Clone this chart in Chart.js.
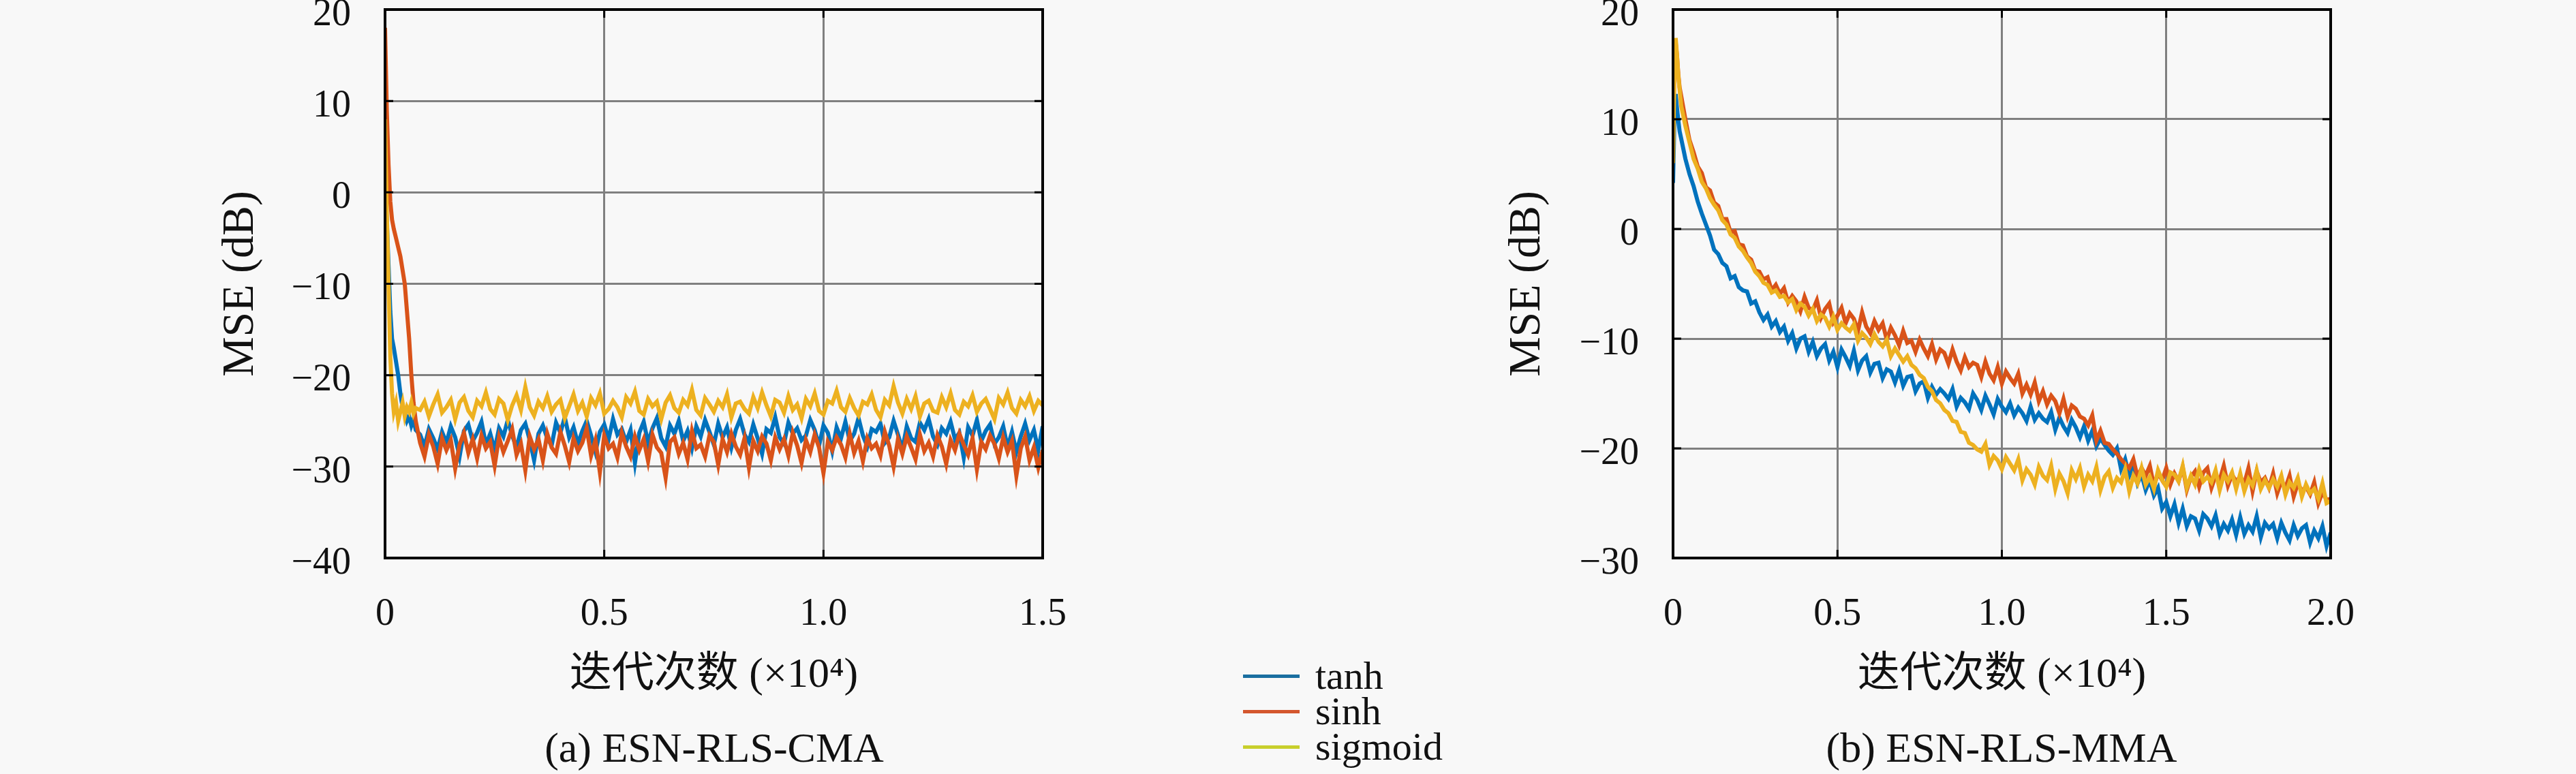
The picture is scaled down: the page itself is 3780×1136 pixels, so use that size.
<!DOCTYPE html>
<html>
<head>
<meta charset="utf-8">
<script src="https://cdn.jsdelivr.net/npm/chart.js@4.4.1/dist/chart.umd.min.js"></script>
<style>
  html, body { margin: 0; padding: 0; background: #f8f8f8; }
  body { width: 3780px; height: 1136px; position: relative; overflow: hidden;
         font-family: "Liberation Serif", "DejaVu Serif", "Noto Sans CJK SC", serif; color: #111; }
  canvas { position: absolute; }
  #cma { left: 300px; top: -70px; }
  #mma { left: 2200px; top: -70px; }
  .caption { position: absolute; top: 1060px; width: 800px; font-size: 62px; line-height: 74px; text-align: center; }
  #legend { position: absolute; left: 1824px; top: 966px; font-size: 58px; }
  .item { display: flex; align-items: center; height: 52px; line-height: 52px; }
  .swatch { display: inline-block; width: 83px; height: 5px; margin-right: 23px; }
</style>
</head>
<body>
<canvas id="cma" width="1330" height="1110"></canvas>
<canvas id="mma" width="1320" height="1110"></canvas>

<div class="caption" style="left:648px">(a) ESN-RLS-CMA</div>
<div class="caption" style="left:2537px">(b) ESN-RLS-MMA</div>

<div id="legend">
  <div class="item"><span class="swatch" style="background:#1a6fa0"></span>tanh</div>
  <div class="item"><span class="swatch" style="background:#d4572e"></span>sinh</div>
  <div class="item"><span class="swatch" style="background:#c8cf2c"></span>sigmoid</div>
</div>

<script>
const seriesNames = ['tanh', 'sinh', 'sigmoid'];
const seriesColors = ['#0072BD', '#D95319', '#EDB120'];

// (a) ESN-RLS-CMA, x in units of 10^4 iterations
const cmaIterHead = [0, 0.004, 0.008, 0.012, 0.016, 0.02, 0.025, 0.03, 0.035, 0.04, 0.045, 0.05, 0.055, 0.06, 0.065, 0.07];
const cmaTailStart = 0.08, cmaTailStep = 0.01;
const cmaTanhHead = [0, -3, -8, -13, -16, -17, -18.5, -20, -22, -23.5, -24, -25, -24.5, -25.5, -24.8, -26];
const cmaSinhHead = [18, 9, 3, -1, -3, -4, -5, -6, -7, -8.5, -10, -13, -16, -20, -23, -25];
const cmaSigmoidHead = [8, -2, -10, -18, -22, -24, -23, -25, -24, -23, -24.5, -23.5, -24, -23, -24.2, -23.6];
const cmaTanhTail = [
  -26.5,-27.8,-25.9,-26.9,-28.1,-26.2,-27.4,-25.6,-26.8,-28.9,
  -26.1,-25.4,-27.2,-26.3,-25.1,-27.6,-26.4,-28.2,-25.8,-26.7,
  -24.9,-26.6,-27.9,-26.0,-25.3,-27.1,-29.3,-26.4,-25.5,-26.9,
  -27.7,-25.2,-26.3,-24.6,-26.8,-25.7,-27.5,-26.1,-25.0,-26.6,
  -28.4,-26.2,-25.4,-27.0,-24.8,-26.5,-25.9,-27.3,-26.0,-29.6,
  -26.3,-25.1,-27.4,-25.8,-24.7,-26.9,-27.8,-25.5,-26.4,-25.0,
  -27.2,-26.1,-28.0,-25.6,-26.7,-24.9,-26.2,-27.6,-25.3,-26.8,
  -25.7,-27.9,-26.0,-24.8,-26.5,-27.3,-25.4,-26.9,-28.6,-25.9,
  -26.3,-24.6,-26.8,-27.5,-25.2,-26.4,-25.8,-27.1,-26.6,-24.9,
  -26.0,-27.7,-25.5,-26.3,-28.3,-25.7,-26.9,-25.1,-27.2,-26.4,
  -24.7,-26.6,-27.8,-25.9,-26.2,-25.3,-27.4,-26.8,-25.0,-26.5,
  -28.1,-25.6,-26.9,-27.3,-25.2,-26.0,-24.8,-26.7,-27.6,-25.8,
  -26.4,-25.1,-27.0,-26.3,-29.0,-25.7,-26.6,-24.9,-27.2,-26.1,
  -25.4,-27.5,-26.8,-25.6,-27.9,-26.2,-28.4,-26.7,-25.3,-27.1,
  -26.0,-28.2,-25.6
];
const cmaSinhTail = [
  -27.4,-28.9,-26.5,-27.8,-29.7,-26.9,-28.2,-27.1,-30.2,-27.6,
  -26.3,-28.5,-27.0,-29.1,-26.6,-28.0,-27.3,-29.9,-26.8,-28.4,
  -27.2,-25.9,-28.7,-27.5,-30.4,-26.7,-28.1,-27.0,-29.3,-26.4,
  -27.9,-28.6,-26.2,-27.7,-29.5,-26.9,-28.3,-27.4,-25.8,-28.8,
  -27.1,-30.6,-26.6,-28.0,-27.5,-29.0,-26.3,-27.8,-28.9,-26.7,
  -28.2,-27.0,-29.4,-26.5,-27.9,-28.5,-31.2,-27.3,-26.8,-28.6,
  -27.4,-29.2,-26.1,-28.0,-27.6,-28.9,-26.6,-27.3,-29.8,-27.0,
  -28.4,-26.4,-27.8,-28.7,-26.9,-30.1,-27.2,-28.3,-26.7,-27.5,
  -29.3,-26.8,-28.1,-27.0,-28.8,-26.3,-27.7,-29.6,-27.1,-28.4,
  -26.5,-27.9,-30.7,-27.3,-28.2,-26.8,-27.6,-29.0,-26.4,-28.5,
  -27.2,-29.4,-26.9,-28.0,-27.5,-28.8,-26.2,-27.7,-30.0,-27.0,
  -28.6,-26.7,-27.9,-29.2,-26.5,-28.3,-27.4,-28.9,-26.6,-27.8,
  -29.7,-27.1,-28.2,-26.4,-27.6,-28.7,-26.9,-30.3,-27.3,-28.1,
  -26.6,-27.5,-29.1,-26.8,-28.4,-27.2,-31.0,-28.0,-26.7,-29.3,
  -27.9,-30.1,-28.2
];
const cmaSigmoidTail = [
  -23.8,-22.9,-24.5,-23.2,-22.1,-24.1,-23.5,-22.7,-24.8,-23.0,
  -22.4,-23.9,-24.6,-22.8,-23.4,-21.9,-23.7,-24.3,-22.6,-23.1,
  -24.9,-23.3,-22.2,-23.8,-21.3,-23.5,-24.4,-22.9,-23.6,-22.3,
  -24.0,-23.2,-22.7,-24.7,-23.4,-22.1,-23.9,-23.0,-24.5,-22.5,
  -23.3,-22.0,-24.2,-23.7,-22.8,-23.5,-24.6,-22.4,-23.1,-21.8,
  -23.9,-24.3,-22.6,-23.4,-22.9,-24.8,-23.0,-22.2,-23.6,-24.1,
  -22.7,-23.3,-21.6,-23.8,-24.4,-22.5,-23.2,-24.0,-22.8,-23.5,
  -22.1,-24.6,-23.1,-22.9,-23.7,-24.2,-22.4,-23.6,-21.9,-23.3,
  -24.5,-22.7,-23.0,-24.1,-22.3,-23.8,-23.2,-24.7,-22.6,-23.4,
  -22.0,-23.9,-24.3,-22.8,-23.1,-21.7,-23.5,-24.0,-22.5,-23.6,
  -24.4,-22.9,-23.2,-22.1,-23.8,-24.6,-22.7,-23.3,-21.2,-23.0,
  -24.2,-22.6,-23.7,-22.3,-24.5,-23.1,-22.8,-23.9,-24.1,-22.4,
  -23.5,-22.0,-23.8,-24.3,-22.9,-23.4,-22.2,-24.0,-23.1,-22.6,
  -23.7,-24.8,-22.5,-23.2,-21.9,-23.6,-24.2,-22.7,-23.4,-22.3,
  -23.9,-22.8,-23.3
];

// (b) ESN-RLS-MMA
const mmaIterHead = [0, 0.004, 0.008, 0.012, 0.016, 0.02];
const mmaTailStart = 0.025, mmaTailStep = 0.0125;
const mmaTanhHead = [4.2, 9.8, 12.3, 11.0, 9.9, 8.9];
const mmaSinhHead = [8.0, 15.0, 17.0, 15.8, 14.1, 12.9];
const mmaSigmoidHead = [6.0, 14.2, 17.4, 15.9, 14.0, 12.7];
const mmaTanhTail = [
  8.2, 6.4, 5.0, 3.9, 2.5, 1.4, 0.4, -0.6,
  -1.9, -2.3, -3.1, -3.4, -4.5, -4.3, -5.3, -5.6,
  -5.7, -6.8, -6.6, -7.6, -8.3, -7.8, -8.9, -8.4,
  -9.4, -8.9, -10.2, -9.5, -10.9, -10.0, -9.8, -11.2,
  -10.3, -11.6, -10.9, -10.5, -12.0, -11.2, -12.6, -11.0,
  -11.7, -12.5, -11.1, -12.9, -12.0, -11.6, -13.1, -12.3,
  -12.2, -13.6, -12.8, -13.0, -14.0, -12.9, -14.3, -13.5,
  -13.4, -14.8, -14.1, -13.9, -15.4, -14.4, -15.1, -14.6,
  -15.0, -15.5, -14.6, -16.2, -15.4, -15.8, -16.4, -15.0,
  -15.6, -16.5, -15.2, -16.0, -16.9, -15.5, -16.2, -16.7,
  -15.9, -17.0, -16.3, -16.8, -17.5, -16.2, -17.4, -16.8,
  -17.3, -17.6, -16.7, -18.3, -17.2, -18.0, -18.6, -17.4,
  -18.1, -19.0, -18.0, -19.3, -18.4, -19.8, -19.1, -19.7,
  -20.2, -20.6, -20.0, -21.9, -21.0, -22.5, -21.6, -23.2,
  -22.4, -23.8, -22.9, -24.3, -23.6, -25.5, -24.9, -26.2,
  -25.1, -26.8, -25.5, -27.1, -26.2, -26.4, -27.5, -26.0,
  -26.4, -27.1, -26.1, -27.8, -26.9, -27.5, -26.5, -27.9,
  -26.3, -27.8, -27.0, -27.6, -26.2, -28.1, -26.8, -27.3,
  -26.9, -28.2, -26.8, -27.7, -28.4, -27.0, -28.0, -27.3,
  -27.0, -28.6, -27.5, -28.2, -27.1, -28.9, -27.7
];
const mmaSinhTail = [
  12.1, 10.0, 8.1, 7.0, 5.7, 5.1, 3.8, 3.5,
  2.4, 2.1, 0.9, 0.9, -0.3, -0.2, -1.4, -1.5,
  -2.5, -2.8, -3.8, -3.9, -4.6, -4.4, -5.6, -5.1,
  -5.9, -5.4, -6.7, -6.1, -6.6, -7.5, -6.2, -7.2,
  -7.4, -6.5, -8.1, -7.3, -6.8, -8.5, -7.9, -7.2,
  -8.6, -7.7, -8.2, -9.3, -7.6, -8.9, -9.5, -8.4,
  -9.2, -8.6, -10.1, -9.0, -9.7, -10.6, -9.3, -10.4,
  -10.2, -11.2, -10.1, -10.9, -11.6, -10.5, -11.9, -11.0,
  -11.3, -12.3, -11.0, -12.1, -12.9, -11.7, -12.6, -12.2,
  -12.4, -13.5, -12.1, -13.2, -13.8, -12.6, -14.1, -13.0,
  -13.6, -14.1, -13.2, -15.0, -14.2, -15.1, -14.0, -15.7,
  -14.8, -16.0, -15.2, -15.7, -16.8, -15.5, -17.1, -16.1,
  -16.4, -17.1, -17.3, -17.9, -17.0, -19.3, -18.4, -19.5,
  -19.6, -20.1, -20.5, -21.0, -21.4, -21.8, -21.0, -22.6,
  -21.8, -22.5, -21.6, -23.4, -22.3, -22.9, -21.8, -23.3,
  -22.3, -23.0, -21.7, -23.8, -22.6, -22.1, -23.5, -22.2,
  -21.8, -23.6, -22.5, -22.9, -21.6, -23.4, -22.4, -23.0,
  -22.6, -23.2, -21.8, -23.9, -22.1, -23.1, -22.7, -23.6,
  -22.3, -24.1, -23.0, -23.6, -22.5, -24.4, -23.2, -23.9,
  -23.5, -24.2, -23.1, -25.0, -24.0, -24.7, -24.6
];
const mmaSigmoidTail = [
  11.2, 9.4, 7.9, 6.4, 5.5, 4.3, 3.7, 2.8,
  2.2, 1.7, 0.8, 0.4, -0.5, -0.8, -1.6, -2.0,
  -2.6, -3.1, -3.9, -4.3, -4.9, -5.1, -5.8, -5.6,
  -6.2, -6.1, -6.7, -6.4, -7.4, -6.8, -7.1, -7.9,
  -7.3, -8.4, -7.8, -8.1, -8.9, -8.0, -9.2, -8.6,
  -9.0, -9.3, -8.7, -10.2, -9.5, -9.9, -10.5, -9.6,
  -10.3, -10.7, -10.1, -11.6, -10.9, -11.5, -12.1, -11.6,
  -12.4, -12.7, -13.3, -13.6, -14.4, -14.8, -15.6, -15.9,
  -16.5, -16.8, -17.5, -17.6, -18.5, -18.6, -19.5, -19.7,
  -20.1, -20.3, -19.6, -21.5, -20.7, -21.1, -21.9, -20.8,
  -21.4, -22.0, -21.0, -22.9, -21.9, -22.4, -23.3, -21.7,
  -22.5, -22.9, -21.6, -23.7, -22.3, -23.0, -24.1, -22.0,
  -22.8, -21.8, -23.5, -22.4, -23.0, -21.7, -23.8, -22.6,
  -22.1, -23.6, -22.7, -23.1, -21.9, -23.9, -22.5, -23.2,
  -21.8, -23.3, -22.6, -23.7, -22.0, -22.9, -23.5, -22.2,
  -22.4, -23.0, -21.6, -23.6, -22.5, -23.3, -21.9, -23.0,
  -22.6, -23.1, -22.0, -23.8, -22.4, -23.0, -22.2, -23.7,
  -22.3, -23.9, -22.8, -23.4, -22.0, -23.7, -22.9, -23.6,
  -22.8, -23.5, -22.5, -24.2, -23.1, -23.6, -22.7, -24.4,
  -23.3, -24.1, -23.7, -24.6, -23.2, -25.0, -24.8
];

const FONT = '"Liberation Serif", "DejaVu Serif", "Noto Sans CJK SC", serif';

function iterations(head, start, step, n) {
  const xs = head.slice();
  for (let i = 0; i < n; i++) xs.push(+(start + i * step).toFixed(4));
  return xs;
}

function toPoints(xs, ys) {
  return xs.map((x, i) => ({ x: x, y: ys[i] }));
}

const framePlugin = {
  id: 'frame',
  afterDatasetsDraw(chart) {
    const { ctx, chartArea: a, scales } = chart;
    ctx.save();
    ctx.strokeStyle = '#000';
    ctx.lineWidth = 3;
    ctx.beginPath();
    scales.x.ticks.forEach(t => {
      const px = scales.x.getPixelForValue(t.value);
      ctx.moveTo(px, a.bottom); ctx.lineTo(px, a.bottom - 12);
      ctx.moveTo(px, a.top); ctx.lineTo(px, a.top + 12);
    });
    scales.y.ticks.forEach(t => {
      const py = scales.y.getPixelForValue(t.value);
      ctx.moveTo(a.left, py); ctx.lineTo(a.left + 12, py);
      ctx.moveTo(a.right, py); ctx.lineTo(a.right - 12, py);
    });
    ctx.stroke();
    ctx.lineWidth = 4;
    ctx.strokeRect(a.left, a.top, a.right - a.left, a.bottom - a.top);
    ctx.restore();
  }
};

function createPanel(id, xs, values, xMax, yMin, yMax, yWidth, yTitlePad) {
  new Chart(document.getElementById(id).getContext('2d'), {
    type: 'line',
    data: {
      datasets: values.map((ys, i) => ({
        label: seriesNames[i],
        data: toPoints(xs, ys),
        borderColor: seriesColors[i],
        borderWidth: 6,
        pointRadius: 0,
        tension: 0,
        order: 2 - i
      }))
    },
    options: {
      responsive: false,
      animation: false,
      devicePixelRatio: 1,
      layout: { padding: { top: 84, right: 100, left: 0, bottom: 0 } },
      plugins: { legend: { display: false }, tooltip: { enabled: false } },
      scales: {
        x: {
          type: 'linear', min: 0, max: xMax,
          afterFit: s => { s.height = 221; },
          grid: { color: '#808080', lineWidth: 3, drawTicks: false },
          border: { display: false },
          ticks: {
            stepSize: 0.5, padding: 50, color: '#111',
            font: { family: FONT, size: 56 },
            callback: v => v === 0 ? '0' : v.toFixed(1)
          },
          title: {
            display: true, text: '迭代次数 (×10⁴)', color: '#111',
            font: { family: FONT, size: 62 }, padding: { top: 0, bottom: 11 }
          }
        },
        y: {
          min: yMin, max: yMax,
          afterFit: s => { s.width = yWidth; },
          grid: { color: '#808080', lineWidth: 3, drawTicks: false },
          border: { display: false },
          ticks: {
            stepSize: 10, padding: 50, labelOffset: 8, color: '#111',
            font: { family: FONT, size: 56 },
            callback: v => v < 0 ? '\u2212' + Math.abs(v) : String(v)
          },
          title: {
            display: true, text: 'MSE (dB)', color: '#111',
            font: { family: FONT, size: 66 }, padding: { top: yTitlePad, bottom: 0 }
          }
        }
      }
    },
    plugins: [framePlugin]
  });
}

const cmaIter = iterations(cmaIterHead, cmaTailStart, cmaTailStep, cmaTanhTail.length);
const mmaIter = iterations(mmaIterHead, mmaTailStart, mmaTailStep, mmaTanhTail.length);

createPanel('cma', cmaIter, [
  cmaTanhHead.concat(cmaTanhTail),
  cmaSinhHead.concat(cmaSinhTail),
  cmaSigmoidHead.concat(cmaSigmoidTail)
], 1.5, -40, 20, 265, 14);

createPanel('mma', mmaIter, [
  mmaTanhHead.concat(mmaTanhTail),
  mmaSinhHead.concat(mmaSinhTail),
  mmaSigmoidHead.concat(mmaSigmoidTail)
], 2.0, -30, 20, 255, 2);
</script>
</body>
</html>
